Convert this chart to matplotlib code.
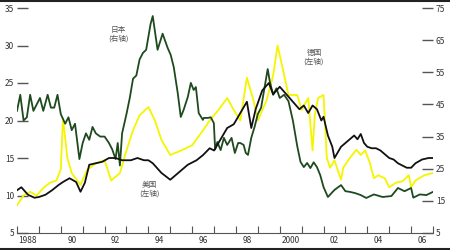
import matplotlib
matplotlib.use("Agg")
import matplotlib.pyplot as plt
from matplotlib.lines import Line2D

plt.rcParams['font.family'] = ['Noto Sans CJK SC', 'DejaVu Sans']

# ---- data (fractional years) ----
japan_t = [1988.0, 1988.15, 1988.3, 1988.45, 1988.6, 1988.75, 1988.9, 1989.05, 1989.2, 1989.4,
           1989.55, 1989.7, 1989.85, 1990.0, 1990.2, 1990.35, 1990.5, 1990.65, 1990.85, 1991.0,
           1991.15, 1991.3, 1991.45, 1991.6, 1991.8, 1992.0, 1992.2, 1992.35, 1992.5, 1992.6,
           1992.7, 1992.8, 1993.0, 1993.15, 1993.3, 1993.45, 1993.6, 1993.75, 1993.9, 1994.0,
           1994.1, 1994.2, 1994.42, 1994.65, 1994.88, 1995.02, 1995.16, 1995.34, 1995.48, 1995.61,
           1995.8, 1995.94, 1996.07, 1996.17, 1996.3, 1996.49, 1996.53, 1996.72, 1996.85, 1996.99,
           1997.05, 1997.15, 1997.3, 1997.45, 1997.6, 1997.8, 1997.95, 1998.1, 1998.2, 1998.35,
           1998.45, 1998.55, 1998.7, 1998.85, 1999.0, 1999.15, 1999.3, 1999.45, 1999.55, 1999.7,
           1999.85, 2000.0, 2000.2, 2000.4, 2000.6, 2000.8, 2000.95, 2001.1, 2001.25, 2001.4,
           2001.55, 2001.7, 2001.85, 2002.0, 2002.2, 2002.5, 2002.8, 2003.0, 2003.2, 2003.45,
           2003.7, 2003.95, 2004.3, 2004.7, 2005.1, 2005.4, 2005.7, 2006.0, 2006.1, 2006.4, 2006.7, 2007.0]
japan_v = [43, 48, 40, 41, 48, 43, 45, 47, 43, 48,
           44, 44, 48, 42, 39, 41, 37, 39, 28, 33,
           36, 34, 38, 36, 35, 35, 33, 31, 28, 33,
           26, 36, 42, 47, 53, 54, 59, 61, 62, 66,
           70, 72.5, 62, 67, 62.6, 60.4, 56.6, 48.6, 41.1, 43.3,
           47.3, 51.7, 49.5, 50.4, 42.3, 40.2, 40.8, 40.8, 41, 39.2,
           31, 33.3, 30.8, 34.6, 32.4, 34.6, 29.9, 33, 33, 32.4,
           29.9, 29.3, 34.6, 38, 42, 44, 50, 56, 52, 48,
           50, 47, 48, 46, 40, 32, 27.1, 25.5, 26.8, 25.2,
           27, 25.5, 23, 19.3, 16.2, 18.4, 19.9, 18, 17.8, 17.4,
           16.8, 15.9, 17, 16.2, 16.5, 19, 18, 19, 16, 17, 16.8, 17.8]

us_t = [1988.0, 1988.2, 1988.5, 1988.8, 1989.0, 1989.3, 1989.6, 1989.9, 1990.1, 1990.4,
        1990.7, 1990.9, 1991.1, 1991.3, 1991.6, 1991.9, 1992.2, 1992.5, 1992.8, 1993.2,
        1993.5, 1993.8, 1994.0, 1994.2, 1994.6, 1995.0, 1995.4, 1995.8, 1996.2, 1996.5,
        1996.8, 1997.0, 1997.3, 1997.6, 1997.9, 1998.2, 1998.5, 1998.7, 1998.9, 1999.2,
        1999.5, 1999.7, 2000.0, 2000.3, 2000.6, 2000.9, 2001.1, 2001.3, 2001.5, 2001.7,
        2001.9, 2002.0, 2002.2, 2002.4, 2002.5, 2002.6, 2002.8, 2003.0, 2003.2, 2003.4,
        2003.55, 2003.7, 2003.85, 2004.0, 2004.2, 2004.4, 2004.6, 2004.8, 2005.0, 2005.2,
        2005.4, 2005.6, 2005.8, 2006.0, 2006.2, 2006.5, 2006.8, 2007.0]
us_v = [10.7, 11.1, 10.1, 9.7, 9.8, 10.1, 10.7, 11.4, 11.8, 12.3,
        11.8, 10.5, 11.7, 14.1, 14.3, 14.5, 15, 15, 14.7, 14.7,
        15, 14.7, 14.7, 14.3, 13, 12.1, 13.1, 14.1, 14.7, 15.4,
        16.3, 16, 17.5, 19, 19.5, 21, 22.5, 19, 21.5, 24,
        25, 23.5, 24.5, 23.5, 22.5, 21.5, 22, 21, 22, 21.5,
        20, 20.5, 18, 16.5, 15, 15.5, 16.5, 17, 17.5, 18,
        17.5, 18.2, 17, 16.5, 16.3, 16.3, 16, 15.5, 15, 14.8,
        14.3, 14, 13.7, 13.7, 14.3, 14.8, 15, 15]

ger_t = [1988.0, 1988.3, 1988.6, 1988.9, 1989.2, 1989.5, 1989.8, 1990.0, 1990.1, 1990.3,
         1990.5, 1990.9, 1991.2, 1991.6, 1992.0, 1992.3, 1992.7, 1993.0, 1993.3, 1993.6,
         1994.0, 1994.3, 1994.6, 1995.0, 1995.5, 1996.0, 1996.5, 1996.8, 1997.2, 1997.6,
         1997.9, 1998.2, 1998.5, 1998.8, 1999.0, 1999.4, 1999.7, 1999.9, 2000.1, 2000.4,
         2000.8, 2001.0, 2001.3, 2001.5, 2001.6, 2001.75, 2002.0, 2002.15, 2002.3, 2002.5,
         2002.8, 2002.9, 2003.2, 2003.5, 2003.7, 2003.9, 2004.1, 2004.3, 2004.5, 2004.8,
         2005.0, 2005.3, 2005.6, 2005.9, 2006.0, 2006.2, 2006.6, 2007.0]
ger_v = [8.7, 10, 10.5, 10, 11, 11.7, 12, 13.5, 20.3, 15,
         13, 11.4, 13.4, 14.3, 14.7, 12, 13, 16, 18.7, 20.7,
         21.8, 20, 17.4, 15.4, 16, 16.7, 18.7, 20, 21.4, 23,
         21.4, 20, 25.7, 22.7, 20, 22.7, 26, 30, 27.4, 23.4,
         23.4, 21.4, 23, 16, 20.7, 23, 23.4, 15, 13.7, 14.7,
         12.1, 13.7, 15, 16.1, 15.4, 16, 14.5, 12.3, 12.7, 12.3,
         11.1, 11.7, 11.9, 12.7, 11.1, 12, 12.7, 13]

left_ticks = [5, 10, 15, 20, 25, 30, 35]
right_ticks = [5, 15, 25, 35, 45, 55, 65, 75]
year_labels = ["1988", "90", "92", "94", "96", "98", "2000", "02", "04", "06"]

# ---- figure ----
fig = plt.figure(figsize=(4.5, 2.5), dpi=100)
ax = fig.add_axes([17/450, 1 - 233/250, (433 - 17)/450, (233 - 8)/250])
ax2 = ax.twinx()
ax3 = ax2.twinx()
ax2.yaxis.tick_right()
ax2.yaxis.set_label_position('right')
ax3.yaxis.set_visible(False)

ax.set_xlim(1988, 2007)
ax.set_ylim(5, 35)
ax2.set_ylim(5, 75)
ax3.set_ylim(5, 35)

lw = 1.3
ax.plot(ger_t, ger_v, color="#f5f500", lw=lw)
ax2.plot(japan_t, japan_v, color="#1e4a1e", lw=lw)
ax3.plot(us_t, us_v, color="#111111", lw=lw)

for a in (ax, ax2, ax3):
    for s in a.spines.values():
        s.set_visible(False)
ax.spines['bottom'].set_visible(True)
ax.spines['bottom'].set_color("#555555")
ax.spines['bottom'].set_linewidth(0.8)

tick_col = "#555555"
lab_col = "#333333"
ax.set_yticks(left_ticks)
ax.set_yticklabels([str(v) for v in left_ticks])
ax.tick_params(axis='y', direction='in', length=8, width=1.0, color=tick_col,
               labelsize=6, labelcolor=lab_col, pad=2)
ax2.set_yticks(right_ticks)
ax2.set_yticklabels([str(v) for v in right_ticks])
ax2.tick_params(axis='y', direction='in', length=8, width=1.0, color=tick_col,
                labelsize=6, labelcolor=lab_col, pad=2)

years = list(range(1988, 2008))
ax.set_xticks(years)
ax.set_xticklabels([])
ax.tick_params(axis='x', direction='in', length=5, width=0.8, color=tick_col)
ax.set_xticks([1988.5 + 2 * i for i in range(len(year_labels))], minor=True)
ax.set_xticklabels(year_labels, minor=True)
ax.tick_params(axis='x', which='minor', length=0, labelsize=6, labelcolor=lab_col, pad=2)

# annotations
txt_kw = dict(transform=fig.transFigure, fontsize=5.5, color="#555555",
              ha='center', va='center', linespacing=1.1)
fig.text(118/450, 1 - 34/250, "日本\n(右轴)", **txt_kw)
fig.text(314/450, 1 - 57/250, "德国\n(左轴)", **txt_kw)
fig.text(149/450, 1 - 189/250, "美国\n(左轴)", **txt_kw)

# figure border lines top and bottom
fig.add_artist(Line2D([0, 1], [1 - 1/250, 1 - 1/250], transform=fig.transFigure,
                      color="#222222", lw=1.5))
fig.add_artist(Line2D([0, 1], [1 - 248.5/250, 1 - 248.5/250], transform=fig.transFigure,
                      color="#222222", lw=1.5))

fig.savefig("out.png", dpi=100)
